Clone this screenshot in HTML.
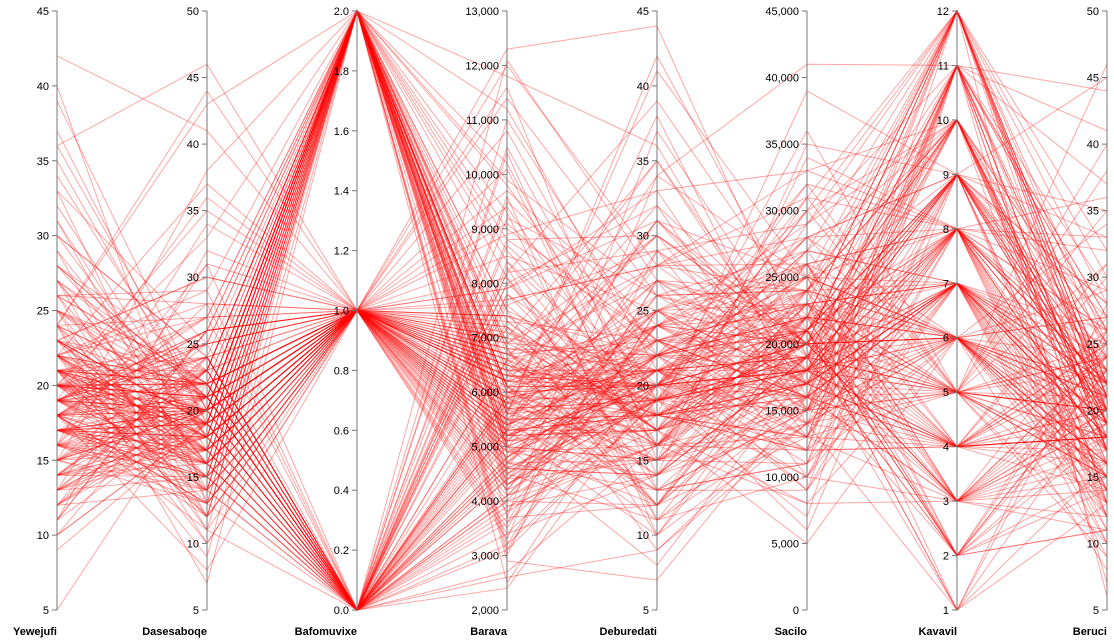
<!DOCTYPE html>
<html><head><meta charset="utf-8"><style>
html,body{margin:0;padding:0;background:#fff;}
svg{display:block;font-family:"Liberation Sans",Arial,sans-serif;}
.tick{font-size:11px;fill:#000;}
.lab{font-size:11px;font-weight:bold;fill:#000;}
</style></head><body>
<svg id="chart" width="1114" height="643">
<g id="lines"></g>
<g id="axes"></g>
</svg>
<script>
const dimNames=["Yewejufi","Dasesaboqe","Bafomuvixe","Barava","Deburedati","Sacilo","Kavavil","Beruci"];
const dimMin=[5,5,0,2000,5,0,1,5];
const dimMax=[45,50,2,13000,45,45000,12,50];
const dimStep=[5,5,0.2,1000,5,5000,1,5];
const yew=[18,22,15,20,25,12,19,21,17,30,14,23,16,20,27,11,19,24,18,13,21,33,17,20,15,26,19,22,10,18,28,16,21,14,20,36,17,23,19,12,25,18,21,15,29,20,16,22,9,19,24,17,31,13,20,18,26,21,15,23,19,42,17,22,14,20,27,18,11,21,16,25,19,23,13,20,30,17,22,18,15,24,19,12,21,37,16,20,26,18,14,23,19,21,17,28,10,20,22,15,19,25,18,32,13,21,17,24,20,16,40,19,22,14,18,27,21,5,23,17,
16,21,19,24,13,18,22,17,26,20,15,23,19,11,21,18,28,14,20,17,25,22,16,19,31,13,21,18,24,20,15,27,19,12,22,17,20,35,16,23,18,14,21,26,19,10,20,17,24,22,15,18,29,21,13,19,23,16,20,34,18,14,22,25,17,20,12,19,27,21,16,23,18,15,20,33,17,22,19,13,24,21,16,18,26,20,11,22,17,19,30,15,21,23,18,14,20,25,17,19,39,16,22,13,20,24,18,21,15,28,19,17,12,23,20,16,22,18,36,14];
const das=[20,17,23,14,19,26,21,12,18,24,16,30,19,22,11,20,27,15,21,18,25,13,20,33,17,22,19,10,24,16,21,28,18,15,20,46,17,23,19,14,21,26,12,20,18,35,16,22,19,25,7,21,17,24,20,13,29,18,22,16,20,41,19,15,23,18,21,11,26,17,20,14,22,19,31,16,24,18,21,13,20,27,17,23,15,19,38,21,16,22,18,12,25,20,17,23,19,14,28,21,16,20,24,18,15,22,19,43,17,21,13,26,20,18,23,16,9,22,19,20,
18,23,15,21,20,27,13,19,22,17,25,16,20,32,18,12,21,24,19,15,22,29,17,20,14,23,19,26,11,21,18,16,24,20,37,15,22,19,13,21,25,17,20,28,16,19,23,14,21,18,34,20,12,22,17,26,19,15,24,20,8,21,18,23,16,27,19,14,22,20,31,17,21,13,19,25,18,16,22,20,44,15,23,19,12,21,26,17,20,24,18,14,22,30,16,19,21,10,23,18,20,15,27,19,22,17,13,24,20,18,36,16,21,19,25,14,22,17,20,23];
const baf=[1,2,0,1,2,1,0,2,1,0,2,1,1,0,2,1,2,0,1,1,2,0,1,2,1,0,2,1,0,1,2,1,0,2,1,1,2,0,1,2,0,1,1,2,0,1,2,1,0,1,2,0,1,1,2,1,0,2,1,0,2,1,1,0,2,1,2,0,1,1,2,0,1,2,1,0,2,1,0,1,2,1,0,2,1,1,2,0,1,2,0,1,1,2,0,1,2,1,0,1,2,0,1,1,2,1,0,2,1,0,2,1,1,0,2,1,2,0,1,1,
2,0,1,1,2,0,1,2,1,0,1,2,0,1,2,1,1,0,2,1,0,2,1,1,2,0,1,2,1,0,2,1,0,1,1,2,0,1,2,1,0,2,1,1,0,2,1,0,1,2,1,0,2,1,1,2,0,1,0,2,1,2,1,0,1,2,0,1,2,1,0,1,2,1,0,2,1,1,0,2,1,0,2,1,2,0,1,1,2,0,1,2,0,1,1,2,0,1,2,1,0,2,1,0,1,2,1,0,2,1,1,0,2,0,1,2,1,0,1,2];
const bar=[6200,5400,7800,4600,6900,3900,5800,8600,5100,7200,4300,6500,9400,5600,4900,7000,6100,3400,5900,8100,4700,6600,5300,10200,6000,4400,7500,5700,3100,6300,5000,8900,5500,4100,6800,12300,5200,7300,4800,6400,2600,5900,7700,5600,4500,9700,6100,5000,3700,6700,5300,8300,4200,6200,11200,5800,4600,7100,5400,6000,2900,6600,5100,8000,4900,7400,5700,3600,6300,10800,5200,4700,6900,5500,9100,4000,6100,5800,7600,3300,5900,6500,4400,8400,5300,12000,6000,4800,7200,5600,2400,6700,5100,9900,4600,6400,5700,7900,4100,6200,5000,8700,5500,3800,6800,11600,5300,4500,7000,5900,3200,6300,5200,8200,4700,6600,9300,5400,4300,6100,
5700,6300,4900,7400,5200,8800,4400,6100,5800,10500,3500,6700,5000,7900,4600,6200,5500,9200,4200,6800,5900,3000,7100,5300,11800,4800,6400,5600,8500,4000,6000,5400,7700,3600,6900,5100,9600,4500,6300,5800,2700,7300,5200,10100,4700,6500,5600,8200,4100,6100,5000,12100,4300,6600,5700,7500,3900,6200,5300,9000,4800,6800,5500,3200,7000,5100,11000,4600,6400,5900,8000,4200,6000,5400,7800,3700,6700,5200,9500,4400,6300,5800,2500,7200,5000,10400,4900,6500,5600,8400,4000,6100,5300,7600,3400,6900,5100,11400,4500,6200,5700,8800,4300,6600,5500,3100,7400,5200,9800,4700,6400,5900,8100,3800,6000,5400,7300,4100,6700,5000];
const deb=[20,24,16,19,28,14,22,18,25,12,21,30,17,23,19,35,15,20,26,13,22,18,31,16,24,20,10,27,19,21,15,33,18,23,12,44,20,17,25,22,9,19,28,16,21,24,14,20,37,18,23,11,26,19,21,15,29,17,22,20,7,24,18,32,16,21,13,27,20,19,23,15,30,18,22,12,25,20,17,34,21,16,24,19,10,28,18,22,15,41,20,23,17,26,14,21,19,31,16,24,12,20,27,18,22,15,38,19,21,13,25,20,17,29,23,16,11,22,19,20,
19,25,14,22,17,30,21,12,24,18,27,16,20,33,19,23,11,26,18,21,15,29,20,17,36,22,14,19,25,16,21,13,28,20,18,24,10,22,19,31,16,23,20,14,26,18,21,39,17,22,15,27,19,12,24,20,16,30,18,23,21,9,25,19,17,28,22,14,20,34,18,24,16,21,19,12,27,20,23,15,32,18,22,17,25,13,21,19,42,16,24,20,18,29,14,22,19,26,11,21,17,23,20,35,15,25,18,22,19,13,28,21,16,24,20,31,17,22,19,8];
const sac=[15000,22000,18000,12000,26000,19000,9000,21000,17000,24000,14000,20000,31000,16000,23000,18000,11000,27000,20000,15000,22000,13000,19000,29000,17000,25000,21000,10000,18000,24000,16000,33000,20000,14000,22000,19000,6000,26000,17000,21000,15000,28000,18000,12000,23000,20000,35000,16000,19000,24000,13000,21000,17000,30000,22000,15000,18000,8000,25000,20000,16000,27000,19000,14000,23000,21000,11000,18000,32000,17000,20000,24000,15000,22000,19000,13000,26000,18000,21000,41000,16000,23000,20000,10000,19000,28000,17000,22000,14000,25000,18000,21000,5000,24000,19000,16000,30000,20000,13000,23000,17000,26000,21000,12000,18000,34000,15000,22000,19000,9000,25000,20000,17000,29000,16000,21000,14000,24000,18000,20000,
19000,14000,23000,17000,27000,21000,12000,18000,25000,16000,22000,20000,31000,15000,19000,24000,10000,21000,17000,28000,18000,13000,23000,20000,16000,26000,19000,36000,15000,22000,18000,11000,24000,20000,17000,29000,14000,21000,19000,25000,8000,23000,18000,16000,27000,20000,13000,22000,19000,32000,17000,24000,15000,21000,18000,10000,26000,20000,16000,23000,19000,14000,28000,21000,17000,33000,12000,22000,18000,25000,20000,15000,24000,19000,7000,21000,17000,27000,16000,22000,20000,13000,30000,18000,23000,19000,11000,25000,21000,15000,26000,17000,39000,20000,14000,22000,18000,24000,16000,9000,21000,19000,28000,17000,23000,20000,12000,25000,18000,15000,31000,21000,19000,16000,24000,17000,22000,13000,20000,18000];
const kav=[7,5,9,6,8,4,11,3,7,10,5,6,12,8,2,7,9,4,6,11,5,8,3,10,7,6,1,9,5,12,4,8,6,7,2,11,9,3,5,10,8,6,4,7,12,5,9,3,8,6,11,2,7,10,4,5,9,6,8,3,12,7,1,11,5,9,6,4,8,10,3,7,6,12,5,9,2,8,4,11,7,6,10,3,9,5,8,12,1,7,4,11,6,9,2,10,5,8,3,7,12,6,9,4,11,8,5,10,2,7,6,3,9,12,5,8,4,11,7,6,
6,8,4,10,7,5,11,9,3,7,6,12,8,4,9,5,7,10,2,8,6,11,4,9,7,3,10,5,8,6,12,7,1,9,4,11,6,8,5,10,3,7,9,6,12,4,8,2,11,5,7,10,6,9,3,8,4,12,7,5,11,6,9,2,8,10,4,7,5,12,3,9,6,8,11,1,7,10,4,6,9,5,12,8,3,7,11,6,2,10,8,4,9,5,7,12,6,3,11,8,10,5,9,4,7,6,12,2,8,11,5,9,7,3,10,6,8,4,12,7];
const ber=[20,16,24,13,22,18,27,11,19,25,15,21,30,17,23,9,20,26,14,22,18,33,12,19,24,16,21,28,10,20,17,36,15,23,19,26,13,21,46,18,22,8,25,16,20,31,14,19,23,17,27,11,21,18,24,15,35,20,13,22,6,19,26,17,21,14,29,18,23,12,20,25,16,22,38,19,15,24,18,21,10,27,17,20,23,13,32,19,16,22,18,41,14,21,25,17,20,11,24,19,28,15,22,18,7,26,20,16,23,13,34,19,21,17,25,12,20,44,18,22,
22,17,25,19,14,23,20,28,16,21,12,24,18,30,20,15,26,19,22,10,24,17,21,33,18,14,25,20,16,27,19,22,13,23,18,37,21,15,20,26,17,11,24,19,22,16,29,18,21,9,23,20,15,27,18,22,14,32,19,24,17,21,12,26,20,16,23,18,40,21,15,25,19,22,13,28,17,20,24,16,19,35,21,14,23,18,26,20,11,22,17,31,19,24,15,21,18,27,13,20,23,16,45,19,22,17,25,14,20,29,18,21,12,24,19,16,26,20,22,15];
const dataCols=[yew,das,baf,bar,deb,sac,kav,ber];

const NS="http://www.w3.org/2000/svg";
const X0=57, DX=150, TOP=11, BOT=610;
function xPos(i){return X0+i*DX;}
function yPos(i,v){return BOT-(v-dimMin[i])/(dimMax[i]-dimMin[i])*(BOT-TOP);}
const linesG=document.getElementById('lines');
const axesG=document.getElementById('axes');
const n=Math.min(...dataCols.map(c=>c.length));
for(let r=0;r<n;r++){
  const p=document.createElementNS(NS,'polyline');
  
  
  p.setAttribute('points',dataCols.map((c,i)=>xPos(i)+','+yPos(i,c[r]).toFixed(1)).join(' '));
  p.setAttribute('fill','none');p.setAttribute('stroke','#ff0000');
  p.setAttribute('stroke-opacity','0.35');p.setAttribute('stroke-width','1');
  linesG.appendChild(p);
}
function fmt(i,v){
  if(dimStep[i]<1) return v.toFixed(1);
  return Math.round(v).toLocaleString('en-US');
}
for(let i=0;i<dimNames.length;i++){
  const x=xPos(i);
  const g=document.createElementNS(NS,'g');
  
  
  const ln=document.createElementNS(NS,'line');
  
  
  ln.setAttribute('x1',x);ln.setAttribute('x2',x);ln.setAttribute('y1',TOP);ln.setAttribute('y2',BOT);
  ln.setAttribute('stroke','#777');g.appendChild(ln);
  const cnt=Math.round((dimMax[i]-dimMin[i])/dimStep[i]);
  for(let k=0;k<=cnt;k++){
    const v=dimMin[i]+k*dimStep[i];const y=yPos(i,v);
    const t=document.createElementNS(NS,'line');
    
    
    t.setAttribute('x1',x-5);t.setAttribute('x2',x);t.setAttribute('y1',y);t.setAttribute('y2',y);
    t.setAttribute('stroke','#777');g.appendChild(t);
    const tx=document.createElementNS(NS,'text');
    
    
    tx.setAttribute('class','tick');tx.setAttribute('x',x-8);tx.setAttribute('y',y+4);
    tx.setAttribute('text-anchor','end');tx.textContent=fmt(i,v);g.appendChild(tx);
  }
  const lb=document.createElementNS(NS,'text');
  
  
  lb.setAttribute('class','lab');lb.setAttribute('x',x);lb.setAttribute('y',635);
  lb.setAttribute('text-anchor','end');lb.textContent=dimNames[i];g.appendChild(lb);
  axesG.appendChild(g);
}
</script>
</body></html>
